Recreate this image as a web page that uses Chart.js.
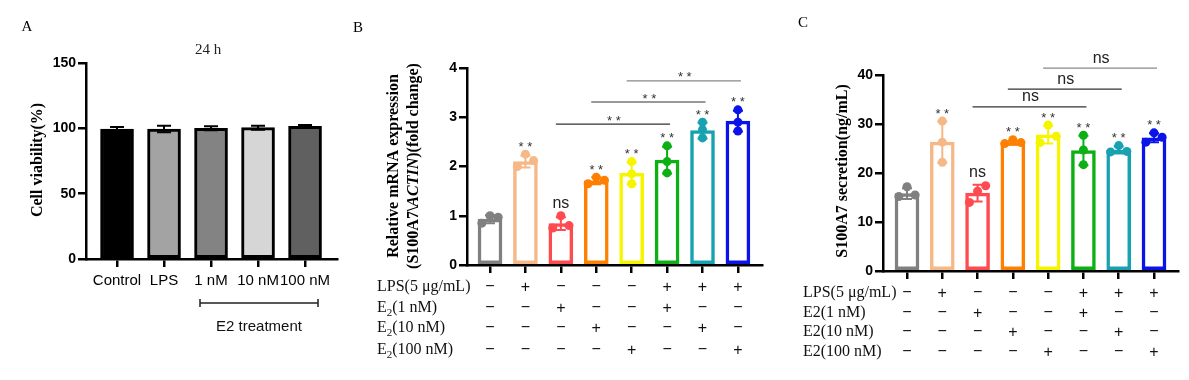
<!DOCTYPE html>
<html>
<head>
<meta charset="utf-8">
<script src="https://cdn.jsdelivr.net/npm/chart.js@4.4.0/dist/chart.umd.min.js"></script>
<style>
  body { margin: 0; background: #fff; width: 1189px; height: 380px; overflow: hidden; position: relative; }
  canvas { position: absolute; top: 0; }
</style>
</head>
<body>
<canvas id="chartA" width="345" height="380" style="left:0px"></canvas>
<canvas id="chartB" width="425" height="380" style="left:345px"></canvas>
<canvas id="chartC" width="419" height="380" style="left:770px"></canvas>
<script>
// ---- Panel A: cell viability ----
const groupsA = ['Control', 'LPS', '1 nM', '10 nM', '100 nM'];
const viabilityA = [99.5, 99.5, 100, 100.5, 101.5];
const viabilityErrA = [1.5, 2.5, 1.5, 1.5, 1];

// ---- Panel B: relative mRNA expression ----
const mrnaMeanB = [0.93, 2.10, 0.84, 1.71, 1.86, 2.13, 2.73, 2.92];
const mrnaSdB = [0.08, 0.12, 0.13, 0.07, 0.22, 0.27, 0.16, 0.21];
const mrnaPointsB = [
  [0.85, 1.00, 0.97], [2.00, 2.25, 2.12], [0.75, 1.00, 0.80], [1.65, 1.78, 1.72],
  [2.10, 1.85, 1.65], [2.42, 2.10, 1.87], [2.90, 2.75, 2.58], [3.15, 2.90, 2.72]
];
const sigB = ['', '**', 'ns', '**', '**', '**', '**', '**'];
const compareB = [[2, 5, 2.86, '**'], [3, 6, 3.31, '**'], [4, 7, 3.74, '**']];

// ---- Panel C: S100A7 secretion ----
const secretionMeanC = [15.8, 26.3, 15.9, 26.2, 27.8, 24.6, 24.7, 27.2];
const secretionSdC = [1.1, 4.2, 1.7, 0.4, 1.8, 3.0, 0.7, 0.9];
const secretionPointsC = [
  [15.2, 17.2, 15.5], [30.6, 26.3, 22.2], [14.0, 16.3, 17.4], [26.0, 26.8, 26.2],
  [26.2, 29.8, 27.5], [27.7, 24.7, 21.7], [24.3, 25.6, 24.4], [26.3, 28.2, 27.3]
];
const sigC = ['', '**', 'ns', '**', '**', '**', '**', '**'];
const compareC = [[2, 5, 33.5, 'ns'], [3, 6, 37.1, 'ns'], [4, 7, 41.4, 'ns']];

// treatment table (same for B and C)
const rowLPS = ['-', '+', '-', '-', '-', '+', '+', '+'];
const rowE2_1 = ['-', '-', '+', '-', '-', '+', '-', '-'];
const rowE2_10 = ['-', '-', '-', '+', '-', '-', '+', '-'];
const rowE2_100 = ['-', '-', '-', '-', '+', '-', '-', '+'];
const rowNames = ['LPS(5 μg/mL)', 'E2(1 nM)', 'E2(10 nM)', 'E2(100 nM)'];

const SERIF = '"Liberation Serif", "Times New Roman", serif';
const SANS = '"Liberation Sans", Arial, sans-serif';
const groupColors = ['#808080', '#f5b886', '#ff4a50', '#ff8000', '#f5f500', '#0cb014', '#16a2b0', '#0a14e8'];
const barsA = ['#000000', '#a3a3a3', '#838383', '#d6d6d6', '#606060'];
// spread of the three dots inside a bar (true = side by side, false = stacked)
const spreadB = [true, true, true, true, false, false, false, false];
const spreadC = [true, false, true, true, true, false, true, true];

Chart.defaults.animation = false;
Chart.defaults.plugins.legend.display = false;
Chart.defaults.plugins.tooltip.enabled = false;

function yAxis(max, step) {
  return {
    min: 0, max: max,
    afterFit: s => { s.width = 40; },
    afterBuildTicks: s => { s.ticks = []; for (let v = 0; v <= max; v += step) s.ticks.push({ value: v }); },
    ticks: { color: '#000', font: { family: SANS, size: 14, weight: 'bold' }, padding: 2 },
    grid: { drawOnChartArea: false, tickLength: 8, color: '#000', lineWidth: 2.5 },
    border: { display: true, color: '#000', width: 2.5 }
  };
}

function xAxis(min, max, n, labels) {
  return {
    type: 'linear', min: min, max: max, offset: false,
    afterFit: s => { s.height = 60; },
    afterBuildTicks: s => { s.ticks = []; for (let i = 0; i < n; i++) s.ticks.push({ value: i }); },
    ticks: {
      display: !!labels, autoSkip: false, maxRotation: 0, padding: 5,
      color: '#000', font: { family: SANS, size: 15 },
      callback: v => labels ? labels[v] : ''
    },
    grid: { offset: false, drawOnChartArea: false, tickLength: 8, color: '#000', lineWidth: 2.5 },
    border: { display: true, color: '#000', width: 2.5 }
  };
}

function text(ctx, s, x, y, font, align, color) {
  ctx.font = font;
  ctx.fillStyle = color || '#000';
  ctx.textAlign = align || 'center';
  ctx.textBaseline = 'middle';
  ctx.fillText(s, x, y);
}

// error bars drawn just after the bar dataset, before the dots
function errorBarPlugin(means, errs, colors, capW, lw) {
  return {
    id: 'errbars',
    afterDatasetDraw(chart, args) {
      if (chart.data.datasets[args.index].type !== 'bar') return;
      const ctx = chart.ctx, x = chart.scales.x, y = chart.scales.y;
      ctx.save();
      ctx.lineWidth = lw;
      means.forEach((m, i) => {
        const px = x.getPixelForValue(i);
        const top = y.getPixelForValue(m + errs[i]);
        const bot = y.getPixelForValue(m - errs[i]);
        ctx.strokeStyle = colors[i];
        ctx.beginPath();
        ctx.moveTo(px, top); ctx.lineTo(px, bot);
        ctx.moveTo(px - capW / 2, top); ctx.lineTo(px + capW / 2, top);
        ctx.moveTo(px - capW / 2, bot); ctx.lineTo(px + capW / 2, bot);
        ctx.stroke();
      });
      ctx.restore();
    }
  };
}

function dotData(points, spread) {
  const out = [];
  points.forEach((grp, i) => {
    grp.forEach((v, k) => {
      out.push({ x: spread[i] ? i + (k - 1) * 0.23 : i, y: v });
    });
  });
  return out;
}
function dotColors(points) {
  const out = [];
  points.forEach((grp, i) => grp.forEach(() => out.push(groupColors[i])));
  return out;
}

// table of +/- under the x axis, significance marks and comparison lines
function annotate(chart, off, cfg) {
  const ctx = chart.ctx, xs = chart.scales.x, ys = chart.scales.y;
  const gx = v => xs.getPixelForValue(v) + off;
  ctx.save();
  ctx.translate(-off, 0);

  // significance above each bar
  cfg.sig.forEach((s, i) => {
    if (!s) return;
    const hi = Math.max(cfg.means[i] + cfg.sd[i], ...cfg.points[i]);
    const py = ys.getPixelForValue(hi);
    if (s === 'ns') text(ctx, 'ns', gx(i), py - 12, '16px ' + SANS, 'center', '#222');
    else text(ctx, '* *', gx(i), py - 7, '13px ' + SANS, 'center', '#333');
  });

  // comparison lines
  cfg.compare.forEach(([a, b, level, lab], k) => {
    const py = ys.getPixelForValue(level);
    ctx.strokeStyle = k === 2 ? '#888' : '#333';
    ctx.lineWidth = 1.2;
    ctx.beginPath();
    ctx.moveTo(gx(a) - 5, py); ctx.lineTo(gx(b) + 3, py);
    ctx.stroke();
    const mid = (gx(a) + gx(b)) / 2;
    if (lab === 'ns') text(ctx, 'ns', mid, py - 10, '16px ' + SANS, 'center', '#222');
    else text(ctx, '* *', mid, py - 3, '13px ' + SANS, 'center', '#333');
  });

  // treatment table
  const rows = [rowLPS, rowE2_1, rowE2_10, rowE2_100];
  rows.forEach((row, r) => {
    const ry = cfg.rowY[r];
    if (r > 0 && cfg.subscript) {
      ctx.font = '16px ' + SERIF;
      ctx.fillStyle = '#111'; ctx.textAlign = 'left'; ctx.textBaseline = 'middle';
      ctx.fillText('E', cfg.labelX, ry);
      const wE = ctx.measureText('E').width;
      ctx.font = '11px ' + SERIF;
      ctx.fillText('2', cfg.labelX + wE, ry + 5);
      const w2 = ctx.measureText('2').width;
      ctx.font = '16px ' + SERIF;
      ctx.fillText(rowNames[r].slice(2), cfg.labelX + wE + w2, ry);
    } else {
      text(ctx, rowNames[r], cfg.labelX, ry, '16px ' + SERIF, 'left', '#111');
    }
    row.forEach((s, i) => {
      if (s === '+') text(ctx, '+', gx(i), ry + 1, '16px ' + SANS, 'center', '#111');
      else text(ctx, '\u2212', gx(i), ry, '16px ' + SANS, 'center', '#111');
    });
  });
  ctx.restore();
}

// ---------- Chart A ----------
new Chart(document.getElementById('chartA'), {
  type: 'bar',
  data: {
    datasets: [{
      type: 'bar',
      data: viabilityA.map((v, i) => ({ x: i, y: v })),
      backgroundColor: barsA, borderColor: '#000', borderWidth: 3,
      borderSkipped: false, barThickness: 33
    }]
  },
  options: {
    responsive: false, devicePixelRatio: 1,
    layout: { autoPadding: false, padding: { left: 46, top: 63, right: 8, bottom: 61 } },
    scales: { x: xAxis(-0.66, 4.68, 5, groupsA), y: yAxis(150, 50) }
  },
  plugins: [errorBarPlugin(viabilityA, viabilityErrA, ['#000', '#000', '#000', '#000', '#000'], 14, 2), {
    id: 'decorA',
    afterDraw(chart) {
      const ctx = chart.ctx;
      text(ctx, 'A', 27, 27, '15px ' + SERIF);
      text(ctx, '24 h', 208, 50, '15px ' + SERIF, 'center', '#222');
      ctx.save();
      ctx.translate(38, 160); ctx.rotate(-Math.PI / 2);
      text(ctx, 'Cell viability(%)', 0, 0, 'bold 16px ' + SERIF);
      ctx.restore();
      // E2 treatment bracket
      ctx.strokeStyle = '#222'; ctx.lineWidth = 1.5;
      ctx.beginPath();
      ctx.moveTo(200, 303); ctx.lineTo(318, 303);
      ctx.moveTo(200, 299); ctx.lineTo(200, 307);
      ctx.moveTo(318, 299); ctx.lineTo(318, 307);
      ctx.stroke();
      text(ctx, 'E2 treatment', 259, 327, '15px ' + SANS, 'center', '#111');
    }
  }]
});

// ---------- Chart B ----------
new Chart(document.getElementById('chartB'), {
  type: 'bar',
  data: {
    datasets: [{
      type: 'scatter', order: 1,
      data: dotData(mrnaPointsB, spreadB),
      pointRadius: 4.5, pointBorderWidth: 0,
      pointBackgroundColor: dotColors(mrnaPointsB)
    }, {
      type: 'bar', order: 2,
      data: mrnaMeanB.map((v, i) => ({ x: i, y: v })),
      backgroundColor: '#fff', borderColor: groupColors, borderWidth: 3.5,
      borderSkipped: false, barThickness: 24
    }]
  },
  options: {
    responsive: false, devicePixelRatio: 1,
    layout: { autoPadding: false, padding: { left: 82, top: 68, right: 8, bottom: 55 } },
    scales: { x: xAxis(-0.65, 7.68, 8, null), y: yAxis(4, 1) }
  },
  plugins: [errorBarPlugin(mrnaMeanB, mrnaSdB, groupColors, 10, 2), {
    id: 'decorB',
    afterDraw(chart) {
      const off = 345, ctx = chart.ctx;
      ctx.save();
      ctx.translate(-off, 0);
      text(ctx, 'B', 358, 28, '15px ' + SERIF);
      // y title, two lines, second with italic ACTIN
      ctx.save();
      ctx.translate(394, 166); ctx.rotate(-Math.PI / 2);
      text(ctx, 'Relative mRNA expression', 0, 0, 'bold 16px ' + SERIF);
      const parts = [['(S100A7\\', 'bold 16px '], ['ACTIN', 'italic bold 16px '], [')(fold change)', 'bold 16px ']];
      let total = 0;
      parts.forEach(p => { ctx.font = p[1] + SERIF; total += ctx.measureText(p[0]).width; });
      let cx = -total / 2;
      parts.forEach(p => {
        ctx.font = p[1] + SERIF;
        ctx.fillStyle = '#000'; ctx.textAlign = 'left'; ctx.textBaseline = 'middle';
        ctx.fillText(p[0], cx, 20);
        cx += ctx.measureText(p[0]).width;
      });
      ctx.restore();
      ctx.restore();
      annotate(chart, off, {
        sig: sigB, means: mrnaMeanB, sd: mrnaSdB, points: mrnaPointsB, compare: compareB,
        rowY: [287, 308, 328, 350], labelX: 377, subscript: true
      });
    }
  }]
});

// ---------- Chart C ----------
new Chart(document.getElementById('chartC'), {
  type: 'bar',
  data: {
    datasets: [{
      type: 'scatter', order: 1,
      data: dotData(secretionPointsC, spreadC),
      pointRadius: 4.5, pointBorderWidth: 0,
      pointBackgroundColor: dotColors(secretionPointsC)
    }, {
      type: 'bar', order: 2,
      data: secretionMeanC.map((v, i) => ({ x: i, y: v })),
      backgroundColor: '#fff', borderColor: groupColors, borderWidth: 3.5,
      borderSkipped: false, barThickness: 24
    }]
  },
  options: {
    responsive: false, devicePixelRatio: 1,
    layout: { autoPadding: false, padding: { left: 73, top: 75, right: 11, bottom: 49 } },
    scales: { x: xAxis(-0.68, 7.68, 8, null), y: yAxis(40, 10) }
  },
  plugins: [errorBarPlugin(secretionMeanC, secretionSdC, groupColors, 10, 2), {
    id: 'decorC',
    afterDraw(chart) {
      const off = 770, ctx = chart.ctx;
      ctx.save();
      ctx.translate(-off, 0);
      text(ctx, 'C', 803, 23, '15px ' + SERIF);
      ctx.save();
      ctx.translate(843, 171); ctx.rotate(-Math.PI / 2);
      text(ctx, 'S100A7 secretion(ng/mL)', 0, 0, 'bold 16px ' + SERIF);
      ctx.restore();
      ctx.restore();
      annotate(chart, off, {
        sig: sigC, means: secretionMeanC, sd: secretionSdC, points: secretionPointsC, compare: compareC,
        rowY: [293, 313, 332, 352], labelX: 803, subscript: false
      });
    }
  }]
});
</script>
</body>
</html>
